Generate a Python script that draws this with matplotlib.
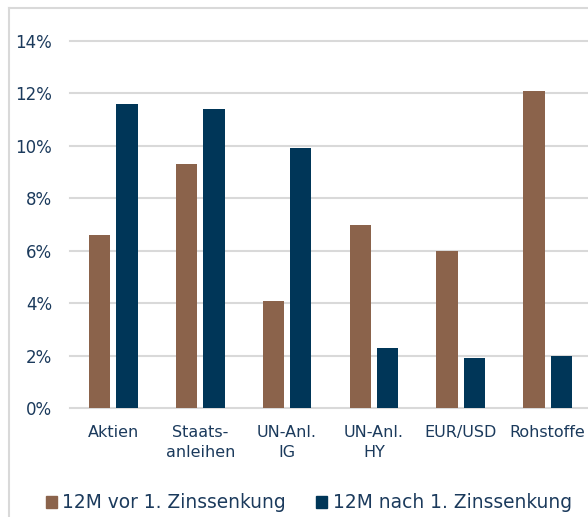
import numpy as np
import matplotlib.pyplot as plt
from matplotlib.lines import Line2D
from matplotlib.patches import Patch

# Data
categories = ["Aktien", "Staats-\nanleihen", "UN-Anl.\nIG", "UN-Anl.\nHY", "EUR/USD", "Rohstoffe"]
vor = [6.6, 9.3, 4.1, 7.0, 6.0, 12.1]
nach = [11.6, 11.4, 9.9, 2.3, 1.9, 2.0]
series_labels = ["12M vor 1. Zinssenkung", "12M nach 1. Zinssenkung"]
yticks = [0, 2, 4, 6, 8, 10, 12, 14]

brown = "#8B634B"
navy = "#003658"
text_col = "#1B3A5C"
grid_col = "#D9D9D9"

plt.rcParams["font.family"] = ["DejaVu Sans"]

fig = plt.figure(figsize=(5.88, 5.17), dpi=100)
ax = fig.add_axes([70 / 588, 1 - 408 / 517, 521 / 588, (408 - 41) / 517])

x = np.arange(len(categories))
w = 0.245
ax.bar(x - 0.158, vor, width=w, color=brown, zorder=3)
ax.bar(x + 0.158, nach, width=w, color=navy, zorder=3)

ax.set_xlim(-0.5, len(categories) - 0.5)
ax.set_ylim(0, 14)
ax.set_yticks(yticks)
ax.set_yticklabels([f"{t}%" for t in yticks])
ax.set_xticks(x)
ax.set_xticklabels(categories, linespacing=1.45)
ax.tick_params(axis="y", length=0, pad=13, labelsize=12, labelcolor=text_col)
ax.tick_params(axis="x", length=0, pad=12, labelsize=11.5, labelcolor=text_col)
ax.grid(axis="y", color=grid_col, linewidth=1.5, zorder=0)
for gl in ax.get_ygridlines():
    gl.set_clip_on(False)
for s in ax.spines.values():
    s.set_visible(False)

# Legend
handles = [Patch(color=brown), Patch(color=navy)]
fig.legend(handles, series_labels, loc="center", bbox_to_anchor=(0.525, 1 - 503 / 517),
           ncol=2, frameon=False, fontsize=13.4, labelcolor=text_col,
           handlelength=0.6, handleheight=0.6, handletextpad=0.3, columnspacing=1.6)

# outer frame (cropped)
fig.add_artist(Line2D([9 / 588, 9 / 588], [0, 1 - 8 / 517], color=grid_col, linewidth=1.5))
fig.add_artist(Line2D([9 / 588, 1], [1 - 8 / 517, 1 - 8 / 517], color=grid_col, linewidth=1.5))

fig.savefig("out.png", dpi=100)
